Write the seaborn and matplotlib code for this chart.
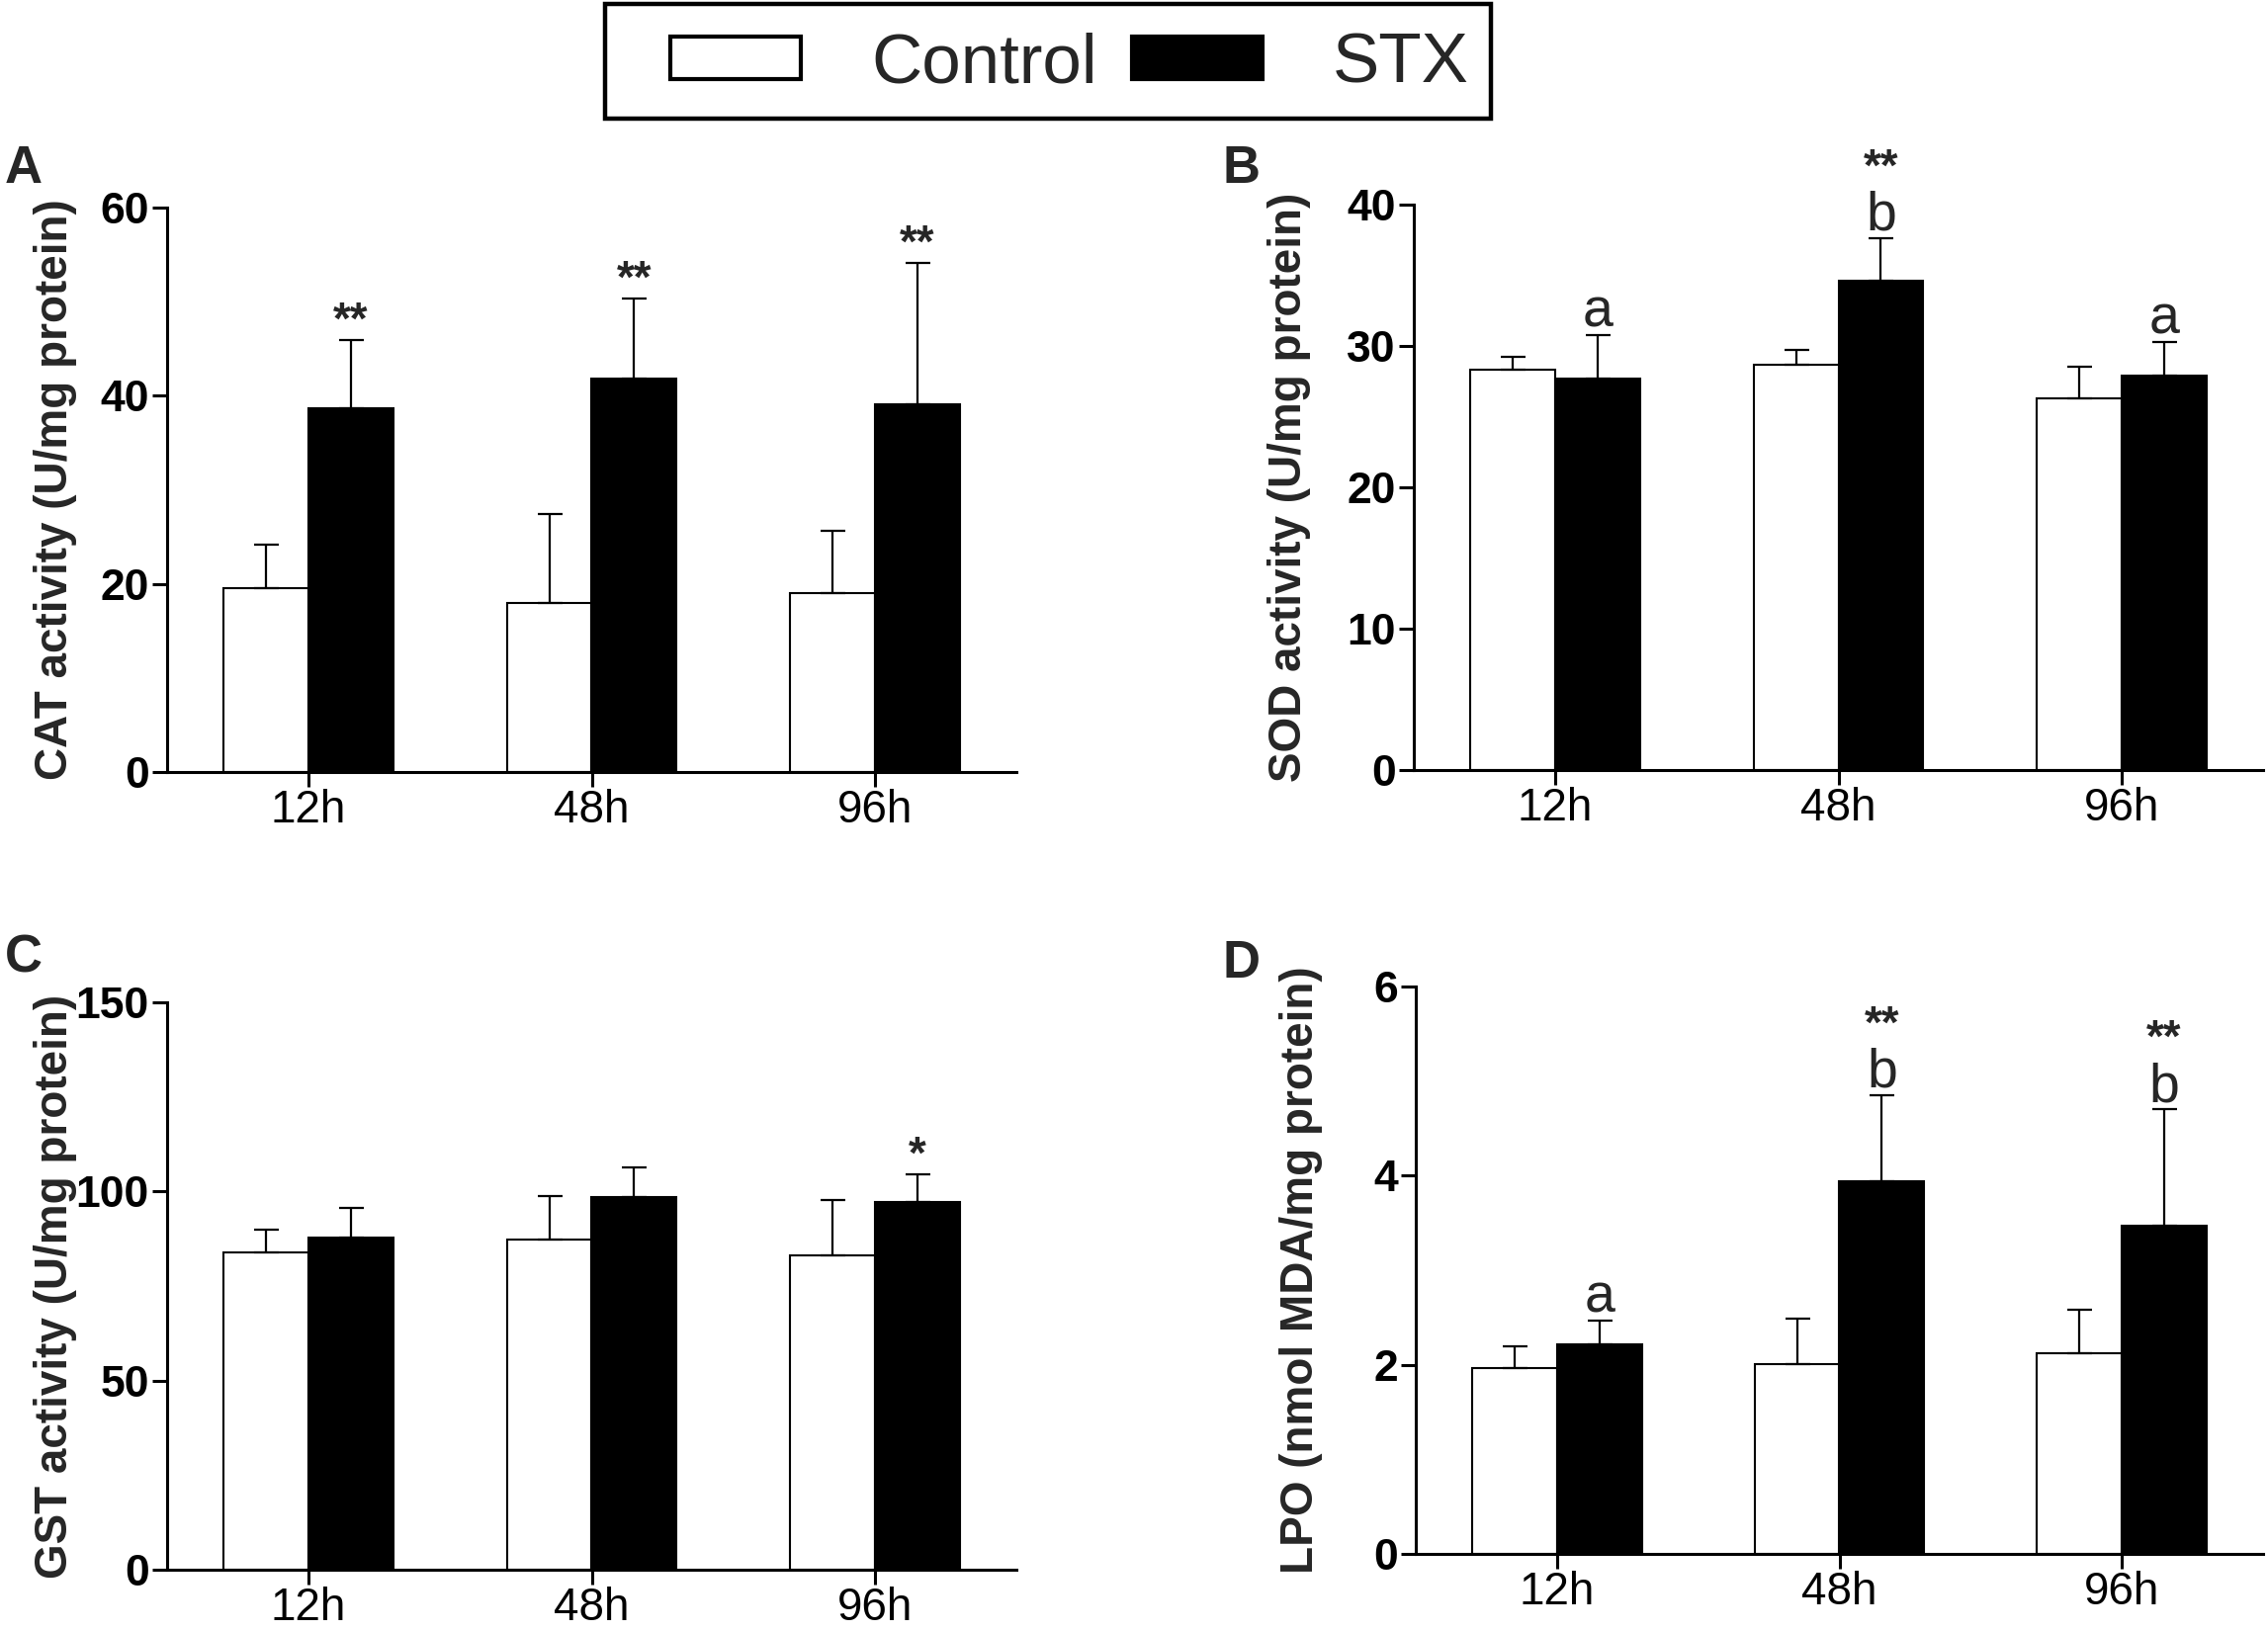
import matplotlib
matplotlib.use("Agg")
import matplotlib.pyplot as plt
from matplotlib.patches import Patch, Rectangle
import numpy as np
import pandas as pd
import seaborn as sns


times = ["12h", "48h", "96h"]
groups = ["Control", "STX"]

# CAT activity (A)
cat_control = [19.5, 18.0, 19.0]
cat_control_err = [4.7, 9.4, 6.6]
cat_stx = [38.7, 41.8, 39.1]
cat_stx_err = [7.2, 8.5, 15.0]
cat_stars = ["**", "**", "**"]
cat_letters = ["", "", ""]

# SOD activity (B)
sod_control = [28.3, 28.7, 26.3]
sod_control_err = [0.9, 1.0, 2.2]
sod_stx = [27.7, 34.6, 27.9]
sod_stx_err = [3.1, 3.0, 2.4]
sod_stars = ["", "**", ""]
sod_letters = ["a", "b", "a"]

# GST activity (C)
gst_control = [83.9, 87.4, 83.2]
gst_control_err = [5.9, 11.4, 14.6]
gst_stx = [87.9, 98.5, 97.1]
gst_stx_err = [7.8, 7.8, 7.3]
gst_stars = ["", "", "*"]
gst_letters = ["", "", ""]

# LPO (D)
lpo_control = [1.97, 2.01, 2.12]
lpo_control_err = [0.22, 0.48, 0.46]
lpo_stx = [2.22, 3.94, 3.47]
lpo_stx_err = [0.25, 0.91, 1.23]
lpo_stars = ["", "**", "**"]
lpo_letters = ["a", "b", "b"]

W, H = 2294, 1650


def draw_panel(ax, control, control_err, stx, stx_err, stars, letters, ylabel, ymax, yticks, label_x):
    df = pd.DataFrame({
        "time": times * 2,
        "group": [groups[0]] * 3 + [groups[1]] * 3,
        "value": control + stx,
    })
    sns.barplot(data=df, x="time", y="value", hue="group", order=times, hue_order=groups,
                palette={"Control": "white", "STX": "black"}, edgecolor="black", linewidth=1.5,
                width=0.6, gap=0, errorbar=None, saturation=1, legend=False, ax=ax)
    bars = list(ax.patches)
    errs = control_err + stx_err
    xs = [b.get_x() + b.get_width() / 2 for b in bars]
    tops = [b.get_height() for b in bars]
    ax.errorbar(xs, tops, yerr=[np.zeros(len(errs)), errs], fmt="none", ecolor="black",
                elinewidth=1.6, capsize=9, capthick=1.6, zorder=3)

    # significance marks over the STX bars
    for i in range(3):
        x = xs[3 + i]
        cap = tops[3 + i] + errs[3 + i]
        if letters[i]:
            ax.annotate(letters[i], xy=(x, cap), xytext=(0, 6), textcoords="offset points",
                        ha="center", va="baseline", fontsize=40)
            off = 42
        else:
            off = 5
        if stars[i]:
            ax.annotate(stars[i], xy=(x, cap), xytext=(0, off), textcoords="offset points",
                        ha="center", va="baseline", fontsize=33, fontweight="bold")

    ax.set_xlim(-0.5, 2.5)
    ax.set_ylim(0, ymax)
    ax.set_yticks(yticks)
    ax.set_xlabel("")
    ax.set_ylabel(ylabel, fontsize=33, fontweight="bold", va="center")
    ax.yaxis.set_label_coords(label_x, 0.5)
    ax.tick_params(axis="y", length=11, width=2.2, labelsize=32, pad=2, direction="out")
    ax.tick_params(axis="x", length=11, width=2.2, labelsize=33, pad=1, direction="out")
    for lbl in ax.get_yticklabels():
        lbl.set_fontweight("bold")
    sns.despine(ax=ax)
    for s in ["left", "bottom"]:
        ax.spines[s].set_linewidth(2.2)


def main():
    sns.set_style("ticks")
    plt.rcParams["font.family"] = ["Liberation Sans", "DejaVu Sans"]
    plt.rcParams["axes.edgecolor"] = "black"
    plt.rcParams["xtick.color"] = "black"
    plt.rcParams["ytick.color"] = "black"

    fig = plt.figure(figsize=(W / 100, H / 100), dpi=100)
    ax_a = fig.add_axes([169 / W, 1 - 781 / H, 859 / W, 571 / H])
    ax_b = fig.add_axes([1430 / W, 1 - 779 / H, 859 / W, 572 / H])
    ax_c = fig.add_axes([169 / W, 1 - 1588 / H, 859 / W, 574 / H])
    ax_d = fig.add_axes([1432 / W, 1 - 1572 / H, 857 / W, 574 / H])

    draw_panel(ax_a, cat_control, cat_control_err, cat_stx, cat_stx_err, cat_stars, cat_letters,
               "CAT activity (U/mg protein)", 60, [0, 20, 40, 60], -0.131)
    draw_panel(ax_b, sod_control, sod_control_err, sod_stx, sod_stx_err, sod_stars, sod_letters,
               "SOD activity (U/mg protein)", 40, [0, 10, 20, 30, 40], -0.147)
    draw_panel(ax_c, gst_control, gst_control_err, gst_stx, gst_stx_err, gst_stars, gst_letters,
               "GST activity (U/mg protein)", 150, [0, 50, 100, 150], -0.131)
    draw_panel(ax_d, lpo_control, lpo_control_err, lpo_stx, lpo_stx_err, lpo_stars, lpo_letters,
               "LPO (nmol MDA/mg protein)", 6, [0, 2, 4, 6], -0.135)

    for letter, x, y in [("A", 5, 146), ("B", 1237, 146), ("C", 5, 944), ("D", 1237, 950)]:
        fig.text(x / W, 1 - y / H, letter, fontsize=38, fontweight="bold", ha="left", va="top")

    handles = [Patch(facecolor="white", edgecolor="black", linewidth=3),
               Patch(facecolor="black", edgecolor="black", linewidth=3)]
    fig.legend(handles=handles, labels=groups, ncol=2, loc="upper center",
               bbox_to_anchor=(1082 / W, 1 - 11 / H), fontsize=51, frameon=False,
               borderpad=0.3, handlelength=1.86, handleheight=0.56, handletextpad=1.0,
               columnspacing=0.5, borderaxespad=0)
    # legend box, as in the original figure
    fig.add_artist(Rectangle((612 / W, 1 - 120 / H), 896 / W, 116 / H, transform=fig.transFigure,
                             fill=False, edgecolor="black", linewidth=3.2))

    fig.savefig("out.png", dpi=100)


if __name__ == "__main__":
    main()
